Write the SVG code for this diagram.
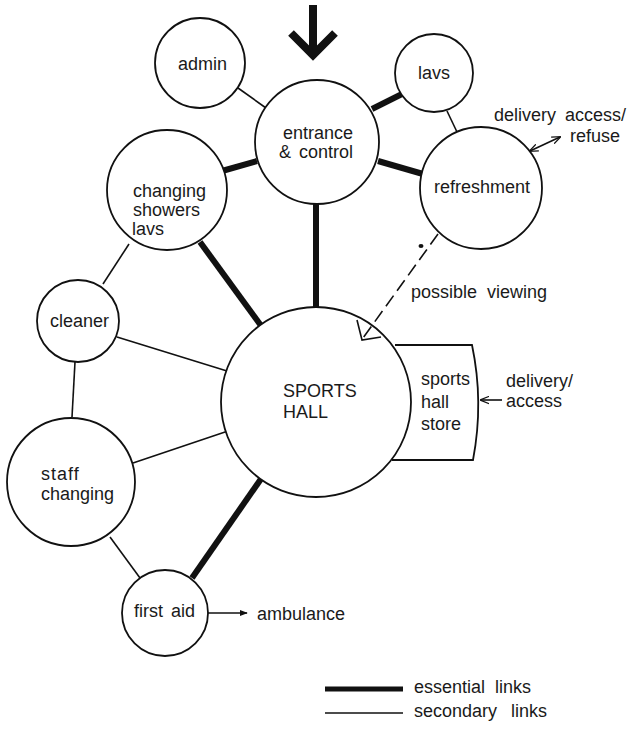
<svg xmlns="http://www.w3.org/2000/svg" width="630" height="729" viewBox="0 0 630 729">
<defs>
<style>
.n{fill:#fff;stroke:#111;stroke-width:1.8}
.t{font-family:"Liberation Sans",Arial,sans-serif;font-size:18px;fill:#1a1a1a}
.thick{stroke:#111;stroke-width:6;fill:none}
.thin{stroke:#111;stroke-width:1.6;fill:none}
</style>
<marker id="ah" viewBox="0 0 10 10" refX="9" refY="5" markerWidth="8" markerHeight="8" orient="auto-start-reverse" markerUnits="userSpaceOnUse">
<path d="M0,1 L10,5 L0,9 Z" fill="#111"/>
</marker>
<marker id="ao" viewBox="0 0 10 10" refX="9" refY="5" markerWidth="9" markerHeight="9" orient="auto-start-reverse" markerUnits="userSpaceOnUse">
<path d="M0,1 L10,5 L0,9" fill="none" stroke="#111" stroke-width="1.4"/>
</marker>
</defs>
<rect width="630" height="729" fill="#fff"/>
<g id="connectors">
<line class="thin" x1="238" y1="88" x2="266" y2="108"/>
<line class="thick" x1="372" y1="109" x2="402" y2="94"/>
<line class="thick" x1="378" y1="161" x2="423" y2="174"/>
<line class="thin" x1="447" y1="111" x2="457" y2="132"/>
<line class="thick" x1="222" y1="171" x2="257" y2="161"/>
<line class="thick" x1="316" y1="203" x2="316" y2="308"/>
<line class="thick" x1="200" y1="242" x2="262" y2="327"/>
<line class="thin" x1="129" y1="244" x2="103" y2="284"/>
<line class="thin" x1="117" y1="337" x2="227" y2="371"/>
<line class="thin" x1="75" y1="362" x2="72" y2="417"/>
<line class="thin" x1="133" y1="463" x2="228" y2="431"/>
<line class="thin" x1="110" y1="537" x2="140" y2="578"/>
<line class="thick" x1="192" y1="578" x2="263" y2="476"/>
<line class="thin" x1="530" y1="151" x2="560" y2="137" stroke-width="1.3" marker-start="url(#ao)" marker-end="url(#ao)"/>
<line class="thin" x1="502" y1="400" x2="481" y2="400" stroke-width="1.2" marker-end="url(#ao)"/>
<line class="thin" x1="207" y1="613" x2="247" y2="613" marker-end="url(#ah)"/>
</g>
<g id="entry-arrow">
<line x1="313" y1="5" x2="313" y2="50" stroke="#111" stroke-width="8"/>
<polyline points="291,33 313,55 335,33" fill="none" stroke="#111" stroke-width="8"/>
</g>
<g id="admin"><circle class="n" cx="200" cy="63" r="45"/><text class="t" x="178" y="70">admin</text></g>
<g id="entrance"><circle class="n" cx="317" cy="142" r="62"/><text class="t" x="283" y="139">entrance</text><text class="t" x="279" y="158" word-spacing="3">&amp; control</text></g>
<g id="lavs"><circle class="n" cx="434" cy="73" r="39"/><text class="t" x="418" y="79">lavs</text></g>
<g id="changing"><circle class="n" cx="167" cy="190" r="60"/><text class="t" x="133" y="197">changing</text><text class="t" x="133" y="216">showers</text><text class="t" x="132" y="235">lavs</text></g>
<g id="refreshment"><circle class="n" cx="481" cy="188" r="61"/><text class="t" x="434" y="193">refreshment</text></g>
<g id="sports-hall"><path class="n" d="M395,345 L472,345 Q484,402 473,460 L392,460"/><circle class="n" cx="316" cy="402" r="95"/><text class="t" x="283" y="397">SPORTS</text><text class="t" x="283" y="418">HALL</text></g>
<g id="store"><text class="t" x="421" y="385">sports</text><text class="t" x="421" y="408">hall</text><text class="t" x="421" y="430">store</text></g>
<g id="cleaner"><circle class="n" cx="78" cy="321" r="41"/><text class="t" x="50" y="327">cleaner</text></g>
<g id="staff"><circle class="n" cx="71" cy="482" r="64"/><text class="t" x="41" y="480" letter-spacing="1">staff</text><text class="t" x="41" y="500">changing</text></g>
<g id="first-aid"><circle class="n" cx="165" cy="613" r="43"/><text class="t" x="134" y="617" word-spacing="3">first aid</text></g>
<g id="viewing-link">
<line class="thin" x1="438" y1="234" x2="363" y2="338" stroke-dasharray="13,6"/>
<polyline class="thin" points="357,320 362,340 381,337"/>
<ellipse cx="421" cy="246" rx="2.5" ry="2" fill="#111"/>
</g>
<g id="labels">
<text class="t" x="494" y="121" font-size="17.5" word-spacing="4">delivery access/</text>
<text class="t" x="570" y="142" font-size="17.5">refuse</text>
<text class="t" x="411" y="298" word-spacing="5">possible viewing</text>
<text class="t" x="506" y="387">delivery/</text>
<text class="t" x="506" y="407">access</text>
<text class="t" x="257" y="620">ambulance</text>
</g>
<g id="legend">
<line x1="325" y1="689" x2="403" y2="689" stroke="#111" stroke-width="5"/>
<line x1="325" y1="713" x2="403" y2="713" stroke="#111" stroke-width="1.6"/>
<text class="t" x="414" y="693" font-size="16" word-spacing="5">essential links</text>
<text class="t" x="414" y="717" font-size="16" word-spacing="9">secondary links</text>
</g>
</svg>
